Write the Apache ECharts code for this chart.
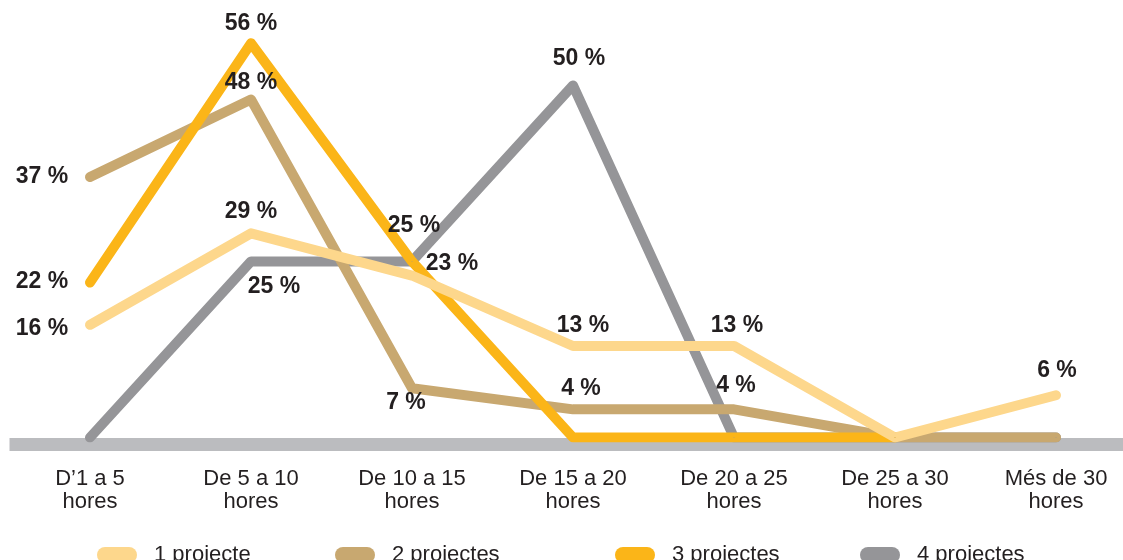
<!DOCTYPE html>
<html style="height: 100%">
<head>
<meta charset="utf-8">
<title>Hores per projecte</title>
<script src="https://cdn.jsdelivr.net/npm/echarts@6/dist/echarts.min.js"></script>
</head>
<body style="height: 100%; margin: 0; background: #fff">
<div id="container" style="width: 1123px; height: 560px"></div>
<script type="text/javascript">

    // data
    let categories = ['D\u20191 a 5\nhores', 'De 5 a 10\nhores', 'De 10 a 15\nhores', 'De 15 a 20\nhores',
                      'De 20 a 25\nhores', 'De 25 a 30\nhores', 'M\u00e9s de 30\nhores']
    let seriesNames = ['1 projecte', '2 projectes', '3 projectes', '4 projectes']
    let oneProject   = [16, 29, 23, 13, 13, 0, 6]
    let twoProjects  = [37, 48, 7, 4, 4, 0, 0]
    let threeProjects = [22, 56, 25, 0, 0, 0, null]
    let fourProjects = [0, 25, 25, 50, 0, 0, 0]

    // where each value label sits relative to its point (null = no label)
    let labelOffsets = {
        '1 projecte':  [[-48, 4], [0, -22], [40, -12], [10, -20], [3, -20], null, [1, -25]],
        '2 projectes': [[-48, 0], [0, -17], [-6, 14], [8, -21], [2, -24], null, null],
        '3 projectes': [[-48, -1], [0, -20], [2, -36], null, null, null, null],
        '4 projectes': [null, [23, 25], null, [6, -27], null, null, null]
    }

    let colors = {
        '1 projecte': '#FDD78C',
        '2 projectes': '#C8A870',
        '3 projectes': '#FBB518',
        '4 projectes': '#959598'
    }
    let legendLeft = [97, 335, 615, 860]

    let font = "'Liberation Sans', Arial, Helvetica, sans-serif"
    let textColor = '#231F20'

    function makeSeries(name, values) {
        let offsets = labelOffsets[name]
        return {
            name: name,
            type: 'line',
            color: colors[name],
            symbol: 'circle',
            symbolSize: 1,
            showSymbol: true,
            lineStyle: {width: 10, cap: 'round', join: 'round', color: colors[name]},
            label: {
                show: false,
                position: 'inside',
                formatter: '{c} %',
                fontFamily: font,
                fontWeight: 'bold',
                fontSize: 23,
                color: textColor
            },
            emphasis: {disabled: true},
            data: values.map(function (v, i) {
                if (offsets[i]) {
                    return {value: v, label: {show: true, offset: offsets[i]}}
                }
                return v
            })
        }
    }

    // drawing order: bottom to top
    let series = [
        makeSeries('4 projectes', fourProjects),
        makeSeries('2 projectes', twoProjects),
        makeSeries('3 projectes', threeProjects),
        makeSeries('1 projecte', oneProject)
    ]

    let pill = 'path://M8,0 L32,0 A8,8 0 0 1 32,16 L8,16 A8,8 0 0 1 8,0 Z'
    let legends = seriesNames.map(function (n, i) {
        return {
            data: [n],
            left: legendLeft[i],
            top: 544,
            padding: 0,
            icon: pill,
            itemWidth: 40,
            itemHeight: 17,
            itemStyle: {borderWidth: 0},
            selectedMode: false,
            textStyle: {fontFamily: font, fontSize: 22, color: textColor, lineHeight: 17, padding: [0, 0, 0, 12]}
        }
    })

    let dom = document.getElementById('container')
    let chart = echarts.init(dom)

    chart.setOption({
        animation: false,
        legend: legends,
        grid: {left: 9.5, top: 15, width: 1127, height: 422.5, containLabel: false, outerBoundsMode: 'none'},
        xAxis: {
            type: 'category',
            data: categories,
            boundaryGap: true,
            offset: 7,
            axisLine: {show: true, onZero: false, lineStyle: {color: '#BBBCBF', width: 13, cap: 'butt'}},
            axisTick: {show: false},
            axisLabel: {
                interval: 0,
                margin: 23,
                fontFamily: font,
                fontSize: 22,
                lineHeight: 23,
                color: textColor
            }
        },
        yAxis: {
            type: 'value',
            min: 0,
            max: 60,
            show: false,
            splitLine: {show: false}
        },
        series: series
    }, true)

</script>
</body>
</html>
